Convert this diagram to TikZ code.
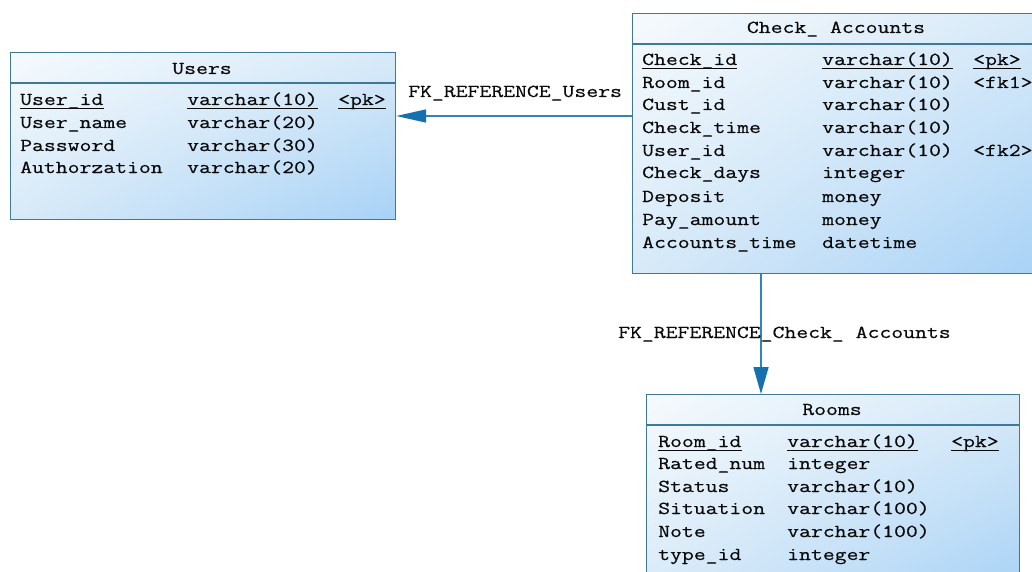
\documentclass[tikz,border=0pt]{standalone}
\usepackage{fontspec}
\newfontfamily\dbf[FakeStretch=1.26,FakeBold=0.5]{Latin Modern Mono}
\usetikzlibrary{arrows.meta,shadings}
\definecolor{bdc}{RGB}{62,122,152}
\definecolor{lnc}{RGB}{48,132,182}
\definecolor{arc}{RGB}{22,112,176}
\definecolor{fillA}{RGB}{246,250,253}
\definecolor{fillB}{RGB}{216,234,248}
\definecolor{fillC}{RGB}{168,210,246}
\definecolor{txc}{RGB}{10,10,10}
\tikzset{
  tbl/.style={draw=bdc, line width=1.2pt, rectangle, anchor=north west, inner sep=0pt,
    upper left=fillA, upper right=fillB, lower left=fillB, lower right=fillC},
  bd/.style={draw=bdc, line width=1.2pt},
  txt/.style={anchor=base west, inner sep=0pt, text=txc, font=\dbf\fontsize{18.3}{21}\selectfont},
  hdr/.style={anchor=base, inner sep=0pt, text=txc, font=\dbf\fontsize{18.3}{21}\selectfont},
  ul/.style={draw=txc, line width=0.9pt},
  conn/.style={draw=lnc, line width=1.5pt},
  fkarrow/.style={-{Triangle[length=30pt,width=13pt,fill=arc,color=arc]}}
}
\begin{document}
\begin{tikzpicture}[x=1pt,y=-1pt]
\useasboundingbox (0,0) rectangle (1032,572);
\clip (0,0) rectangle (1032,572);
\fill[white] (0,0) rectangle (1032,572);

% ---------- Users ----------
\node[tbl, minimum width=385pt, minimum height=167pt] (users) at (10,52) {};
\draw[bd] (users.west |- 0,83) -- (users.east |- 0,83);
\node[hdr] (usersh) at (202,74) {Users};
\node[txt] (u1n) at (20,105) {User\_id};
\node[txt] (u1t) at (187,105) {varchar(10)};
\node[txt] (u1k) at (338,105) {<pk>};
\node[txt] (u2n) at (20,128) {User\_name};
\node[txt] (u2t) at (187,128) {varchar(20)};
\node[txt] (u3n) at (20,151) {Password};
\node[txt] (u3t) at (187,151) {varchar(30)};
\node[txt] (u4n) at (20,173) {Authorzation};
\node[txt] (u4t) at (187,173) {varchar(20)};
\foreach \n in {u1n,u1t,u1k}{\draw[ul] ([yshift=-3pt]\n.base west) -- ([yshift=-3pt]\n.base east);}

% ---------- Check_ Accounts ----------
\node[tbl, minimum width=408pt, minimum height=260pt] (chk) at (632,13) {};
\draw[bd] (chk.west |- 0,44) -- (chk.east |- 0,44);
\node[hdr] (chkh) at (836,33) {Check\_ Accounts};
\node[txt] (c1n) at (642,65) {Check\_id};
\node[txt] (c1t) at (822,65) {varchar(10)};
\node[txt] (c1k) at (973,65) {<pk>};
\node[txt] (c2n) at (642,88) {Room\_id};
\node[txt] (c2t) at (822,88) {varchar(10)};
\node[txt] (c2k) at (973,88) {<fk1>};
\node[txt] (c3n) at (642,110) {Cust\_id};
\node[txt] (c3t) at (822,110) {varchar(10)};
\node[txt] (c4n) at (642,133) {Check\_time};
\node[txt] (c4t) at (822,133) {varchar(10)};
\node[txt] (c5n) at (642,156) {User\_id};
\node[txt] (c5t) at (822,156) {varchar(10)};
\node[txt] (c5k) at (973,156) {<fk2>};
\node[txt] (c6n) at (642,178) {Check\_days};
\node[txt] (c6t) at (822,178) {integer};
\node[txt] (c7n) at (642,202) {Deposit};
\node[txt] (c7t) at (822,202) {money};
\node[txt] (c8n) at (642,225) {Pay\_amount};
\node[txt] (c8t) at (822,225) {money};
\node[txt] (c9n) at (642,248) {Accounts\_time};
\node[txt] (c9t) at (822,248) {datetime};
\foreach \n in {c1n,c1t,c1k}{\draw[ul] ([yshift=-3pt]\n.base west) -- ([yshift=-3pt]\n.base east);}

% ---------- Rooms ----------
\node[tbl, minimum width=373pt, minimum height=200pt] (rooms) at (646,394) {};
\draw[bd] (rooms.west |- 0,425) -- (rooms.east |- 0,425);
\node[hdr] (roomsh) at (832,415) {Rooms};
\node[txt] (r1n) at (658,447) {Room\_id};
\node[txt] (r1t) at (787,447) {varchar(10)};
\node[txt] (r1k) at (951,447) {<pk>};
\node[txt] (r2n) at (658,469) {Rated\_num};
\node[txt] (r2t) at (787,469) {integer};
\node[txt] (r3n) at (658,492) {Status};
\node[txt] (r3t) at (787,492) {varchar(10)};
\node[txt] (r4n) at (658,514) {Situation};
\node[txt] (r4t) at (787,514) {varchar(100)};
\node[txt] (r5n) at (658,537) {Note};
\node[txt] (r5t) at (787,537) {varchar(100)};
\node[txt] (r6n) at (658,560) {type\_id};
\node[txt] (r6t) at (787,560) {integer};
\foreach \n in {r1n,r1t,r1k}{\draw[ul] ([yshift=-3pt]\n.base west) -- ([yshift=-3pt]\n.base east);}

% ---------- Connectors ----------
\draw[conn, fkarrow] (chk.west |- 0,116) -- (users.east |- 0,116);
\node[txt] (fk1) at (408,97) {FK\_REFERENCE\_Users};
\draw[conn, -{Triangle[length=27pt,width=15pt,fill=arc,color=arc]}] (chk.south -| 761,0) -- (rooms.north -| 761,0);
\node[txt] (fk2) at (618,338) {FK\_REFERENCE\_Check\_ Accounts};
\end{tikzpicture}
\end{document}
